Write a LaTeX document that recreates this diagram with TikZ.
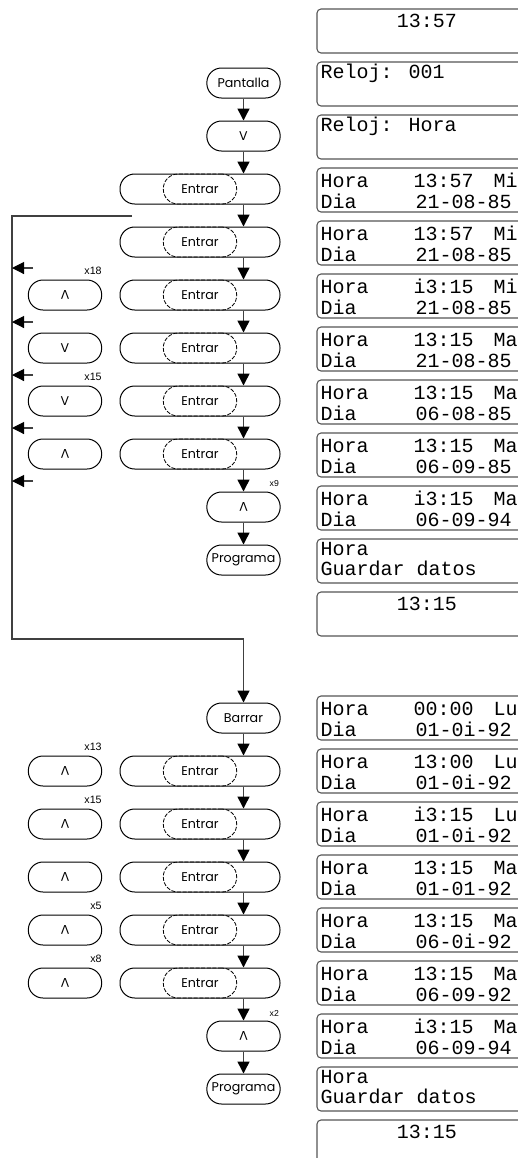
\documentclass[tikz,border=0pt]{standalone}
\usepackage{fontspec}
\usepackage{graphicx}
\usetikzlibrary{arrows.meta, positioning}
\newfontfamily\keyfamily{Poppins}
\newfontfamily\lcdfamily{Liberation Mono}
\newfontfamily\notefamily{Liberation Sans}
\definecolor{cline}{HTML}{404040}
\definecolor{cframe}{HTML}{555555}
\newcommand{\upkey}{\rotatebox[origin=c]{180}{V}}
\tikzset{
  every picture/.style={line width=0.75pt},
  btn/.style={draw, rounded corners=11pt, minimum width=55pt, minimum height=22.5pt, inner sep=0pt, font=\keyfamily\fontsize{9.5}{10}\selectfont},
  wbtn/.style={btn, minimum width=120pt},
  sbtn/.style={btn, line width=0.6pt, dash pattern=on 3pt off 1.2pt},
  lcdbox/.style={draw=cframe, rounded corners=3pt, line width=0.8pt, minimum width=171pt, minimum height=33pt, inner sep=0pt},
  lcdtxt/.style={font=\lcdfamily\fontsize{15}{15}\selectfont, anchor=base west, inner sep=0pt},
  flow/.style={-{Triangle[width=9pt, length=9pt, color=black]}, draw=cline, line width=1.1pt},
  loopline/.style={draw=cline, line width=0.8pt},
  rep/.style={font=\notefamily\fontsize{8}{8}\selectfont, inner sep=0pt, anchor=south east},
  smallrep/.style={rep, font=\notefamily\fontsize{6.5}{6.5}\selectfont},
}

\begin{document}
\begin{tikzpicture}[x=0.75pt, y=-0.75pt]
  \useasboundingbox (0,0) rectangle (518,1158);
  \clip (0,0) rectangle (518,1158);
  % first run
  \node[btn] (pant) at (243.5,83) {Pantalla};
  \node[btn] (dn) at (243.5,136) {V};
  \foreach \n/\y in {1/189, 2/242, 3/295, 4/348, 5/401, 6/454} {
    \node[wbtn] (e\n) at (200,\y) {};
    \node[sbtn] (s\n) at (200,\y) {Entrar};
  }
  \node[btn] (up) at (243.5,507) {\upkey};
  \node[btn] (prog) at (243.5,560) {Programa};
  \draw[flow] (pant) -- (dn);
  \draw[flow] (dn) -- (dn |- e1.north);
  \foreach \a/\b in {1/2, 2/3, 3/4, 4/5, 5/6}
    \draw[flow] (dn |- e\a.south) -- (dn |- e\b.north);
  \draw[flow] (dn |- e6.south) -- (up);
  \draw[flow] (up) -- (prog);
  \foreach \n/\y/\k in {1/295/\upkey, 2/348/V, 3/401/V, 4/454/\upkey}
    \node[btn] (k\n) at (65,\y) {\k};
  \node[rep] (x18) at ([yshift=3pt]k1.north east) {x18};
  \node[rep] (x15) at ([yshift=3pt]k3.north east) {x15};
  \node[smallrep] (x9) at ([xshift=-1pt, yshift=3pt]up.north east) {x9};
  % second run
  \node[btn] (barr) at (243.5,718) {Barrar};
  \foreach \n/\y in {1/771, 2/824, 3/877, 4/930, 5/983} {
    \node[wbtn] (f\n) at (200,\y) {};
    \node[sbtn] (g\n) at (200,\y) {Entrar};
    \node[btn] (m\n) at (65,\y) {\upkey};
  }
  \node[btn] (up2) at (243.5,1036) {\upkey};
  \node[btn] (prog2) at (243.5,1089) {Programa};
  \draw[flow] (barr) -- (barr |- f1.north);
  \foreach \a/\b in {1/2, 2/3, 3/4, 4/5}
    \draw[flow] (barr |- f\a.south) -- (barr |- f\b.north);
  \draw[flow] (barr |- f5.south) -- (up2);
  \draw[flow] (up2) -- (prog2);
  \node[rep] (x13) at ([yshift=3pt]m1.north east) {x13};
  \node[rep] (x15b) at ([yshift=3pt]m2.north east) {x15};
  \node[rep] (x5) at ([yshift=3pt]m4.north east) {x5};
  \node[rep] (x8) at ([yshift=3pt]m5.north east) {x8};
  \node[smallrep] (x2) at ([xshift=-1pt, yshift=3pt]up2.north east) {x2};
  % loop back
  \coordinate (ls) at (132,216);
  \coordinate (lt) at (12,216);
  \coordinate (lb) at (12,639);
  \draw[loopline] (ls) -- (lt) -- (lb) -- (lb -| barr);
  \draw[flow] (lb -| barr) -- (barr);
  \foreach \n/\y in {1/268, 2/322, 3/375, 4/428, 5/481} {
    \coordinate (h\n) at (33,\y);
    \draw[flow, line width=0.8pt] (h\n) -- (lt |- h\n);
  }
  % displays
  \foreach \n in {0,...,11}
    \node[lcdbox] (d\n) at (431,{31+53*\n}) {};
  \foreach \n in {0,...,8}
    \node[lcdbox] (p\n) at (431,{718+53*\n}) {};
  \node[lcdtxt, anchor=base] (ck0) at (427,27) {13:57};
  \node[lcdtxt] (rl1) at (320,78) {Reloj: 001};
  \node[lcdtxt] (rl2) at (320,131) {Reloj: Hora};
  \foreach \n/\tm/\dy/\dt in {3/13:57/Mi/21-08-85, 4/13:57/Mi/21-08-85, 5/i3:15/Mi/21-08-85, 6/13:15/Ma/21-08-85, 7/13:15/Ma/06-08-85, 8/13:15/Ma/06-09-85, 9/i3:15/Ma/06-09-94} {
    \node[lcdtxt] (hr\n) at (320,{31+53*\n-3}) {Hora};
    \node[lcdtxt] (tm\n) at (413,{31+53*\n-3}) {\tm};
    \node[lcdtxt] (dy\n) at (493,{31+53*\n-3}) {\dy};
    \node[lcdtxt] (di\n) at (320,{31+53*\n+18}) {Dia};
    \node[lcdtxt] (dt\n) at (415,{31+53*\n+18}) {\dt};
  }
  \node[lcdtxt] (hr10) at (320,555) {Hora};
  \node[lcdtxt] (gd10) at (320,575) {Guardar datos};
  \node[lcdtxt, anchor=base] (ck11) at (427,610) {13:15};
  \foreach \n/\tm/\dy/\dt in {0/00:00/Lu/01-0i-92, 1/13:00/Lu/01-0i-92, 2/i3:15/Lu/01-0i-92, 3/13:15/Ma/01-01-92, 4/13:15/Ma/06-0i-92, 5/13:15/Ma/06-09-92, 6/i3:15/Ma/06-09-94} {
    \node[lcdtxt] (qhr\n) at (320,{718+53*\n-3}) {Hora};
    \node[lcdtxt] (qtm\n) at (413,{718+53*\n-3}) {\tm};
    \node[lcdtxt] (qdy\n) at (493,{718+53*\n-3}) {\dy};
    \node[lcdtxt] (qdi\n) at (320,{718+53*\n+18}) {Dia};
    \node[lcdtxt] (qdt\n) at (415,{718+53*\n+18}) {\dt};
  }
  \node[lcdtxt] (qhr7) at (320,1083) {Hora};
  \node[lcdtxt] (qgd7) at (320,1103) {Guardar datos};
  \node[lcdtxt, anchor=base] (qck8) at (427,1138) {13:15};
\end{tikzpicture}
\end{document}
